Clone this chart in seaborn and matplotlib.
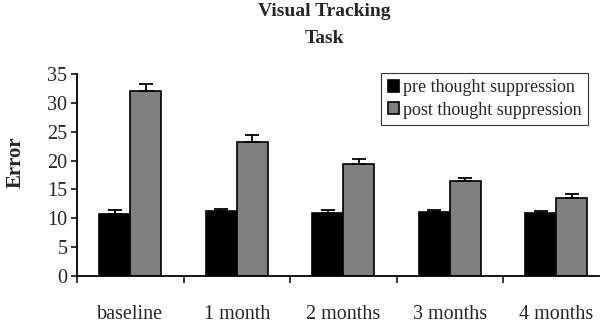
import pandas as pd
import numpy as np
import matplotlib
matplotlib.use("Agg")
import matplotlib.pyplot as plt
import seaborn as sns

# data
months = ["baseline", "1 month", "2 months", "3 months", "4 months"]
pre_vals = [10.8, 11.2, 11.0, 11.1, 11.0]
post_vals = [32.1, 23.3, 19.4, 16.5, 13.6]
pre_err = [0.6, 0.4, 0.5, 0.3, 0.3]
post_err = [1.1, 1.2, 0.9, 0.5, 0.6]
groups = ["pre thought suppression", "post thought suppression"]

df = pd.DataFrame({
    "month": months * 2,
    "Error": pre_vals + post_vals,
    "err": pre_err + post_err,
    "group": [groups[0]] * 5 + [groups[1]] * 5,
})

sns.set_style("ticks")
plt.rcParams['font.family'] = ['Liberation Serif', 'DejaVu Serif']

fig = plt.figure(figsize=(6.04, 3.24), dpi=100)
ax = fig.add_axes([77 / 604, 1 - 276 / 324, 522 / 604, 202 / 324])

sns.barplot(
    data=df,
    x="month",
    y="Error",
    hue="group",
    palette=["black", "#808080"],
    width=0.58,
    errorbar=None,
    edgecolor="black",
    linewidth=1.2,
    ax=ax
)

# upper-only error bars on top of each bar
for cont, errs in zip(ax.containers, [pre_err, post_err]):
    for p, e in zip(cont.patches, errs):
        xc = p.get_x() + p.get_width() / 2
        ax.errorbar(xc, p.get_height(), yerr=[[0], [e]], fmt='none',
                    ecolor='black', elinewidth=1.3, capsize=5, capthick=1.3)

ax.set_ylim(0, 35)
ax.set_xlim(-0.5, 4.4)
ax.set_yticks(range(0, 36, 5))
ax.set_xlabel("")
ax.set_ylabel("")

ax.set_xticks(range(5))
ax.set_xticklabels(months)
ax.set_xticks(np.arange(-0.5, 4, 1), minor=True)
ax.tick_params(axis='x', which='major', length=0, pad=21, labelsize=14.5)
ax.tick_params(axis='x', which='minor', length=5, width=1.3, direction='out')
ax.tick_params(axis='y', length=4, width=1.3, labelsize=14.5, pad=3)

sns.despine(ax=ax)
for s in ["left", "bottom"]:
    ax.spines[s].set_linewidth(1.3)
    ax.spines[s].set_color("black")

fig.text(16 / 604, 1 - 162 / 324, "Error", rotation=90, ha='center', va='center',
         fontsize=15, fontweight='bold')
fig.text(324 / 604, 1 - 25 / 324, "Visual Tracking\nTask", ha='center', va='center',
         fontsize=14, fontweight='bold', linespacing=1.7)

leg = ax.legend(
    loc='upper right',
    bbox_to_anchor=(588 / 604, 1 - 73 / 324),
    bbox_transform=fig.transFigure,
    fontsize=13,
    frameon=True,
    fancybox=False,
    edgecolor='black',
    handlelength=0.65,
    handleheight=0.65,
    handletextpad=0.2,
    labelspacing=0.3,
    borderpad=0.35,
    borderaxespad=0,
)
leg.get_frame().set_linewidth(0.8)

fig.savefig("out.png", dpi=100)
